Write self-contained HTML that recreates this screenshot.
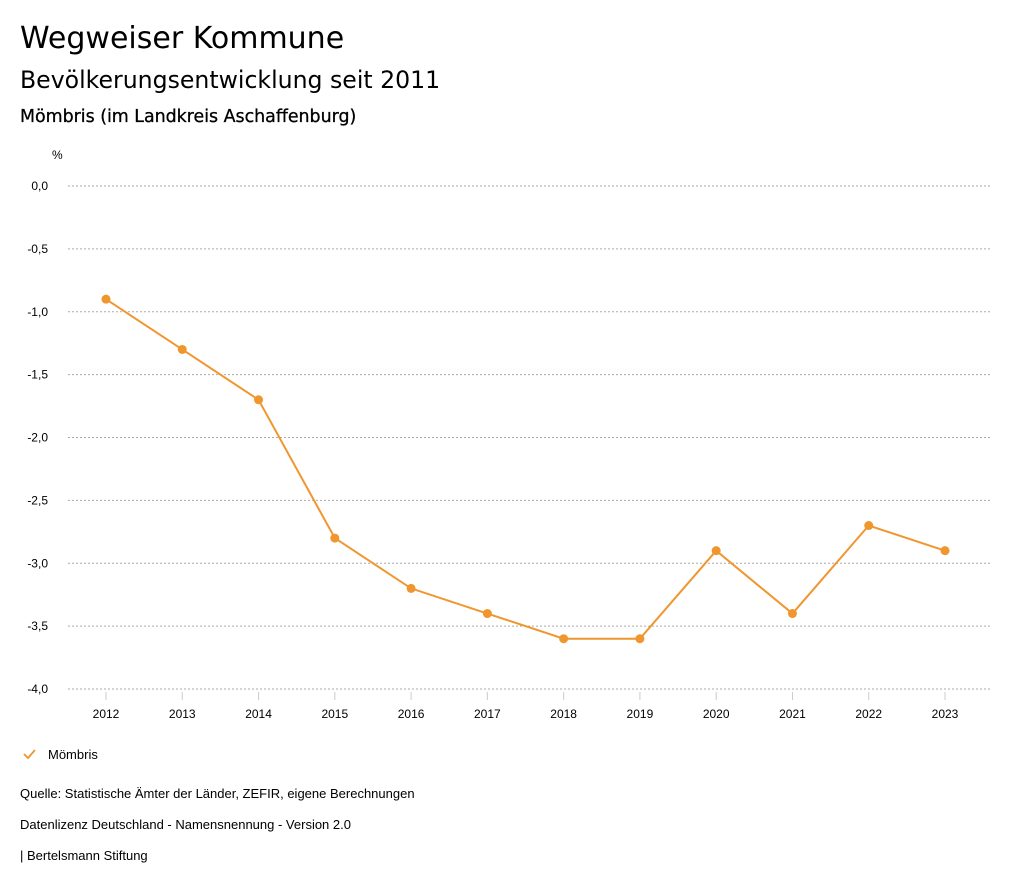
<!DOCTYPE html>
<html><head><meta charset="utf-8"><style>
body{margin:0;background:#fff;font-family:"Liberation Sans","DejaVu Sans",sans-serif;color:#000}
svg{display:block}
.h{font-family:"DejaVu Sans","Liberation Sans",sans-serif}
</style></head><body>
<svg width="1024" height="888" xmlns="http://www.w3.org/2000/svg">
<text class="h" x="20" y="48" font-size="30">Wegweiser Kommune</text>
<text class="h" x="20" y="88" font-size="23.6">Bevölkerungsentwicklung seit 2011</text>
<text class="h" x="20" y="122" font-size="17.4" stroke="#000" stroke-width="0.3">Mömbris (im Landkreis Aschaffenburg)</text>
<text x="52" y="159" font-size="12">%</text>
<g id="grid"></g><g id="xaxis"></g><g id="series"></g>
<path d="M24 754 l4 4 l7 -8" stroke="#f0962f" stroke-width="1.8" fill="none"/>
<text x="48" y="759" font-size="13">Mömbris</text>
<text x="20" y="798" font-size="13">Quelle: Statistische Ämter der Länder, ZEFIR, eigene Berechnungen</text>
<text x="20" y="829" font-size="13">Datenlizenz Deutschland - Namensnennung - Version 2.0</text>
<text x="20" y="860" font-size="13">| Bertelsmann Stiftung</text>
</svg>
<script>
const years=["2012","2013","2014","2015","2016","2017","2018","2019","2020","2021","2022","2023"];
const values=[-0.9,-1.3,-1.7,-2.8,-3.2,-3.4,-3.6,-3.6,-2.9,-3.4,-2.7,-2.9];
const yTicks=[0,-0.5,-1,-1.5,-2,-2.5,-3,-3.5,-4];
const NS="http://www.w3.org/2000/svg";
const yS=v=>186+(0-v)/4*503;
const xS=i=>106+i*(839/11);
function mk(t,a,p){const e=document.createElementNS(NS,t);for(const k in a)e.setAttribute(k,a[k]);p.appendChild(e);return e;}
const g=document.getElementById('grid'),xa=document.getElementById('xaxis'),s=document.getElementById('series');
yTicks.forEach(v=>{
 const l=mk('line',{x1:68,x2:990,y1:yS(v),y2:yS(v),stroke:'#aaa','stroke-width':1,'stroke-dasharray':'2,2'},g);
 
 
 const t=mk('text',{x:48,y:yS(v)+4,'font-size':12,'text-anchor':'end'},g);
 t.textContent=v.toFixed(1).replace('.',',');
 
 
});
years.forEach((y,i)=>{
 const l=mk('line',{x1:xS(i),x2:xS(i),y1:692,y2:700,stroke:'#ccc'},xa);
 
 
 const t=mk('text',{x:xS(i),y:718,'font-size':12,'text-anchor':'middle'},xa);
 t.textContent=y;
 
 
});
const p=mk('polyline',{points:values.map((v,i)=>xS(i)+','+yS(v)).join(' '),fill:'none',stroke:'#f0962f','stroke-width':2},s);


values.forEach((v,i)=>{
 const c=mk('circle',{cx:xS(i),cy:yS(v),r:4.5,fill:'#f0962f'},s);
 
 
});
</script>
</body></html>
